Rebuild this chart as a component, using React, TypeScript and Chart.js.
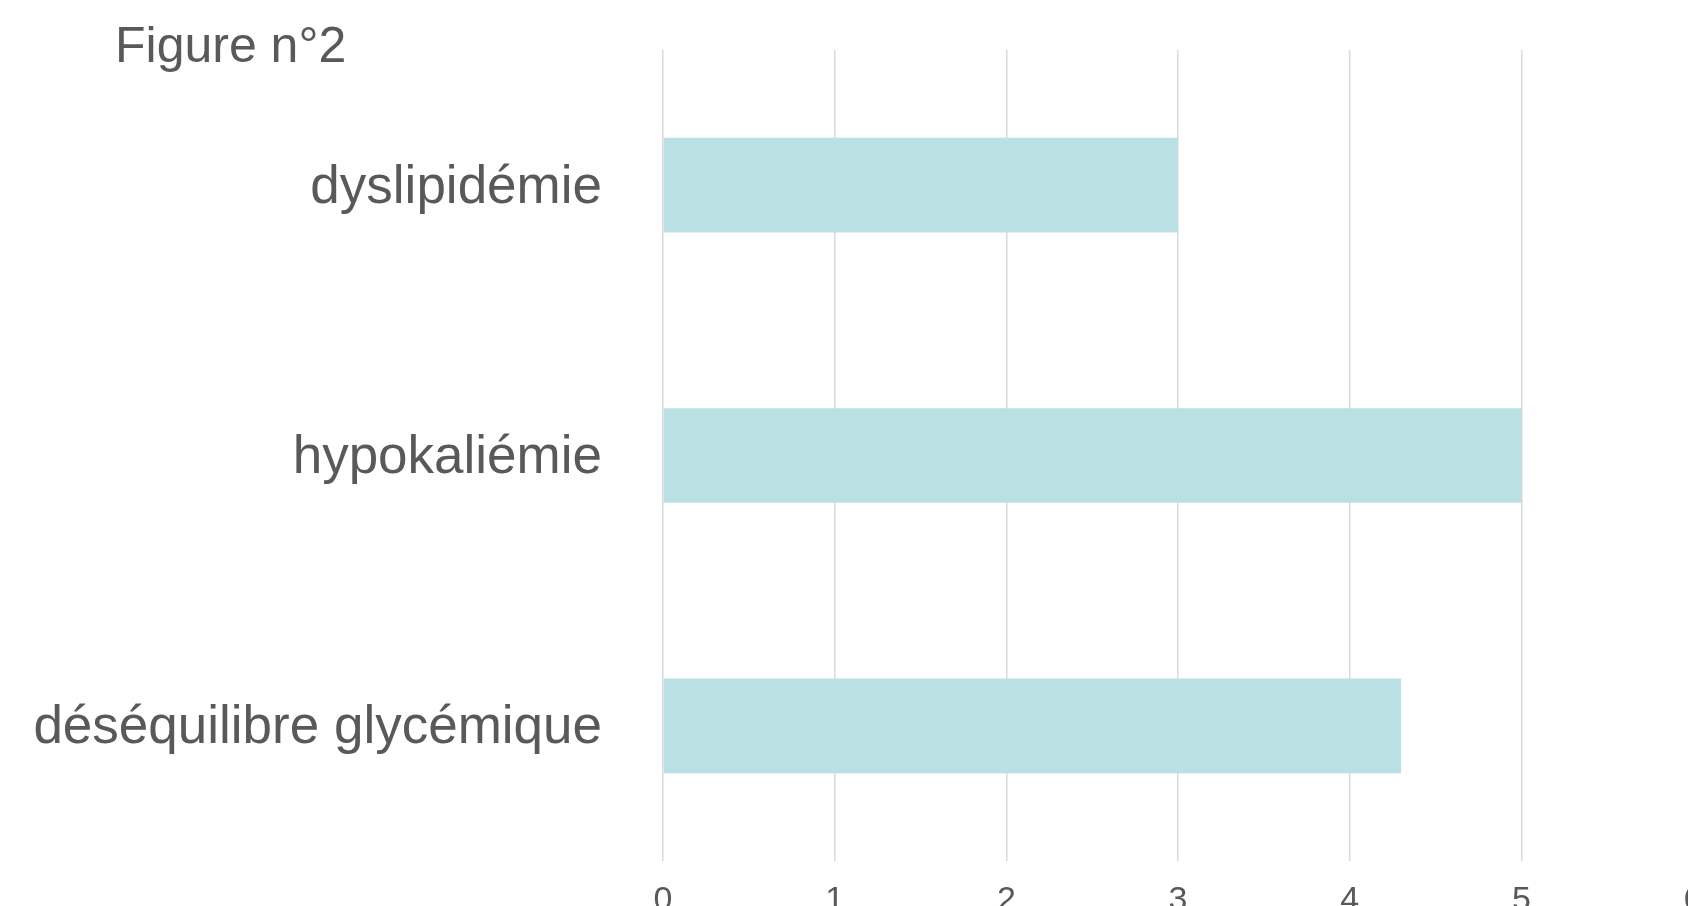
import React, { useEffect, useRef } from "react";
import { Chart, registerables } from "chart.js";

Chart.register(...registerables);

const TITLE = "Figure n°2";
const CATEGORIES = ["dyslipidémie", "hypokaliémie", "déséquilibre glycémique"];
const VALUES = [3, 5, 4.3];
const X_MIN = 0;
const X_MAX = 6;
const X_STEP = 1;

const TEXT_COLOR = "#595959";
const BAR_COLOR = "#bbe0e3";
const GRID_COLOR = "#dadada";
const FONT = "'Liberation Sans', Arial, Helvetica, sans-serif";

const titlePlugin = {
  id: "figTitle",
  afterDraw(chart: any) {
    const ctx = chart.ctx;
    ctx.save();
    ctx.font = `50px ${FONT}`;
    ctx.fillStyle = TEXT_COLOR;
    ctx.textAlign = "left";
    ctx.textBaseline = "alphabetic";
    ctx.fillText(TITLE, 115, 62);
    ctx.restore();
  },
};

export default function App() {
  const ref = useRef<HTMLCanvasElement | null>(null);

  useEffect(() => {
    if (!ref.current) return;
    const chart = new Chart(ref.current, {
      type: "bar",
      data: {
        labels: CATEGORIES,
        datasets: [
          {
            data: VALUES,
            backgroundColor: BAR_COLOR,
            borderWidth: 0,
            barPercentage: 0.35,
            categoryPercentage: 1,
          },
        ],
      },
      options: {
        indexAxis: "y",
        responsive: false,
        animation: false,
        devicePixelRatio: 1,
        layout: { padding: { top: 50, left: 0, right: 27, bottom: 0 } },
        plugins: {
          legend: { display: false },
          tooltip: { enabled: false },
          title: { display: false },
        },
        scales: {
          x: {
            min: X_MIN,
            max: X_MAX,
            grid: { color: GRID_COLOR, lineWidth: 1.5, drawTicks: false },
            border: { display: false },
            ticks: {
              stepSize: X_STEP,
              color: TEXT_COLOR,
              padding: 19,
              font: { family: FONT, size: 34 },
            },
            afterFit: (s: any) => {
              s.height = 79;
              s.paddingLeft = 0;
              s.paddingRight = 0;
              s.paddingTop = 0;
              s.paddingBottom = 0;
            },
          },
          y: {
            grid: { display: false, drawTicks: false },
            border: { display: false },
            ticks: {
              color: TEXT_COLOR,
              padding: 61,
              labelOffset: 3,
              font: { family: FONT, size: 53 },
            },
            afterFit: (s: any) => {
              s.width = 663;
              s.paddingLeft = 0;
              s.paddingRight = 0;
              s.paddingTop = 0;
              s.paddingBottom = 0;
            },
          },
        },
      },
      plugins: [titlePlugin],
    } as any);
    return () => chart.destroy();
  }, []);

  return (
    <div
      style={{
        position: "fixed",
        left: 0,
        top: 0,
        width: 1688,
        height: 906,
        overflow: "hidden",
        background: "#fff",
      }}
    >
      <canvas
        ref={ref}
        width={1720}
        height={940}
        style={{ display: "block", width: 1720, height: 940 }}
      />
    </div>
  );
}
